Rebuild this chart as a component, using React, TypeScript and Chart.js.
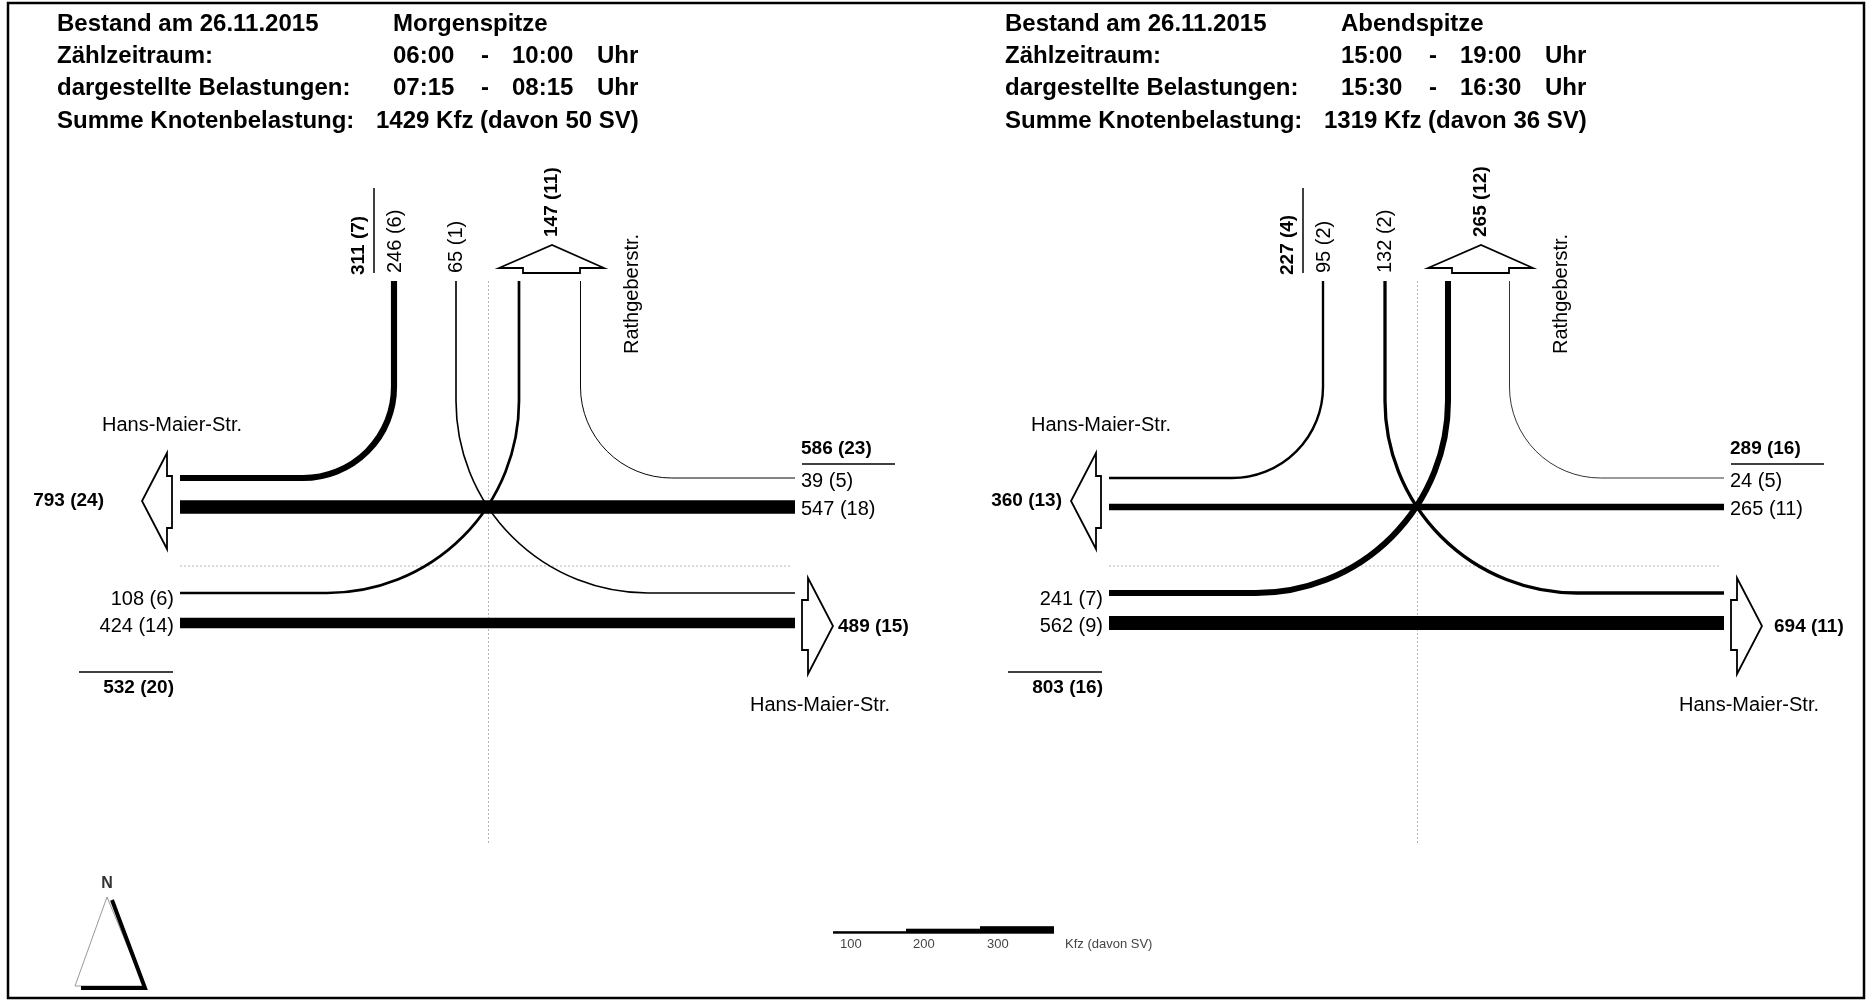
import React, { useEffect, useRef } from 'react';
import { Chart, registerables } from 'chart.js';

Chart.register(...registerables);

const W = 1867;
const H = 1000;

// ---------- data ----------
const periods = ['Morgenspitze', 'Abendspitze'];
const countStart = ['06:00', '15:00'];
const countEnd = ['10:00', '19:00'];
const shownStart = ['07:15', '15:30'];
const shownEnd = ['08:15', '16:30'];
const nodeKfz = [1429, 1319];
const nodeSV = [50, 36];
const surveyDate = '26.11.2015';

// movements: N→W (right), N→E (left), E→W (through), E→N (right), W→N (left), W→E (through)
const movements = ['N-W', 'N-E', 'E-W', 'E-N', 'W-N', 'W-E'];
const morningKfz = [246, 65, 547, 39, 108, 424];
const morningSV = [6, 1, 18, 5, 6, 14];
const eveningKfz = [95, 132, 265, 24, 241, 562];
const eveningSV = [2, 2, 11, 5, 7, 9];

// arm cross-sections: north in, north out, east in, west out, west in, east out
const arms = ['N in', 'N out', 'E in', 'W out', 'W in', 'E out'];
const morningArmKfz = [311, 147, 586, 793, 532, 489];
const morningArmSV = [7, 11, 23, 24, 20, 15];
const eveningArmKfz = [227, 265, 289, 360, 803, 694];
const eveningArmSV = [4, 12, 16, 13, 16, 11];

const streetNorth = 'Rathgeberstr.';
const streetWestEast = 'Hans-Maier-Str.';
const legendTicks = [100, 200, 300];
const legendUnit = 'Kfz (davon SV)';

// ---------- layout (positions & styles only) ----------
const FONT = '"Liberation Sans", Arial, Helvetica, sans-serif';
const KFZ_PER_PX = 40;
const diagramOffset = [0, 929];
const headerOffset = [0, 948];
const westExitLabelRight = [104, 1062];
const eastExitLabelLeft = [838, 1774];
const G = {
  top: 281, left: 180, right: 795,
  xNR: 394, xNL: 456, xMid: 488.5, xNE: 519, xER: 580.5,
  yTop: 478, yWT: 507, yMidH: 566, yEL: 593, yET: 623,
  rSmall: 91, rLarge: 192, dashBottom: 845,
};

const fmt = (k: number, s: number) => `${k} (${s})`;

function App() {
  const ref = useRef<HTMLCanvasElement>(null);

  useEffect(() => {
    document.body.style.margin = '0';
    const canvas = ref.current!;

    const plugin = {
      id: 'knotenstrom',
      beforeDraw(chart: any) {
        const ctx = chart.ctx;
        ctx.save();
        ctx.fillStyle = '#fff';
        ctx.fillRect(0, 0, chart.width, chart.height);
        ctx.restore();
      },
      afterDraw(chart: any) {
        const ctx: CanvasRenderingContext2D = chart.ctx;
        const sx = chart.scales.x;
        const sy = chart.scales.y;
        const X = (v: number) => sx.getPixelForValue(v);
        const Y = (v: number) => sy.getPixelForValue(v);
        const L = (v: number) => Math.abs(sx.getPixelForValue(v) - sx.getPixelForValue(0));
        const lw = (kfz: number) => Math.max(kfz / KFZ_PER_PX, 0.8);

        const text = (s: string, x: number, y: number, o: any = {}) => {
          ctx.save();
          ctx.font = `${o.bold ? 'bold ' : ''}${o.size || (o.bold ? 19 : 20)}px ${FONT}`;
          ctx.fillStyle = o.color || '#000';
          ctx.textBaseline = 'middle';
          ctx.textAlign = o.align || 'left';
          if (o.rot) {
            ctx.translate(X(x), Y(y));
            ctx.rotate(-Math.PI / 2);
            ctx.fillText(s, 0, 0);
          } else {
            ctx.fillText(s, X(x), Y(y));
          }
          ctx.restore();
        };
        const line = (pts: number[][], w: number, color = '#000', dash: number[] = []) => {
          ctx.save();
          ctx.strokeStyle = color;
          ctx.lineWidth = w;
          ctx.setLineDash(dash);
          ctx.beginPath();
          pts.forEach((p, i) => (i ? ctx.lineTo(X(p[0]), Y(p[1])) : ctx.moveTo(X(p[0]), Y(p[1]))));
          ctx.stroke();
          ctx.restore();
        };
        const poly = (pts: number[][], w = 1.8) => {
          ctx.save();
          ctx.beginPath();
          pts.forEach((p, i) => (i ? ctx.lineTo(X(p[0]), Y(p[1])) : ctx.moveTo(X(p[0]), Y(p[1]))));
          ctx.closePath();
          ctx.fillStyle = '#fff';
          ctx.fill();
          ctx.strokeStyle = '#000';
          ctx.lineWidth = w;
          ctx.lineJoin = 'miter';
          ctx.stroke();
          ctx.restore();
        };
        // straight start -> corner (arc radius r) -> end
        const turn = (a: number[], c: number[], b: number[], r: number, w: number) => {
          ctx.save();
          ctx.strokeStyle = '#000';
          ctx.lineWidth = w;
          ctx.lineCap = 'butt';
          ctx.beginPath();
          ctx.moveTo(X(a[0]), Y(a[1]));
          ctx.arcTo(X(c[0]), Y(c[1]), X(b[0]), Y(b[1]), L(r));
          ctx.lineTo(X(b[0]), Y(b[1]));
          ctx.stroke();
          ctx.restore();
        };

        // frame
        ctx.save();
        ctx.strokeStyle = '#000';
        ctx.lineWidth = 2.5;
        ctx.strokeRect(X(8), Y(3), L(1856), L(995));
        ctx.restore();

        periods.forEach((period, p) => {
          const hx = headerOffset[p];
          const kfz = p === 0 ? morningKfz : eveningKfz;
          const sv = p === 0 ? morningSV : eveningSV;
          const aK = p === 0 ? morningArmKfz : eveningArmKfz;
          const aS = p === 0 ? morningArmSV : eveningArmSV;

          // header
          const hb = { bold: true, size: 24 };
          text(`Bestand am ${surveyDate}`, hx + 57, 24, hb);
          text(period, hx + 393, 24, hb);
          text('Zählzeitraum:', hx + 57, 56, hb);
          text(countStart[p], hx + 393, 56, hb);
          text('-', hx + 481, 56, hb);
          text(countEnd[p], hx + 512, 56, hb);
          text('Uhr', hx + 597, 56, hb);
          text('dargestellte Belastungen:', hx + 57, 88, hb);
          text(shownStart[p], hx + 393, 88, hb);
          text('-', hx + 481, 88, hb);
          text(shownEnd[p], hx + 512, 88, hb);
          text('Uhr', hx + 597, 88, hb);
          text('Summe Knotenbelastung:', hx + 57, 121, hb);
          text(`${nodeKfz[p]} Kfz (davon ${nodeSV[p]} SV)`, hx + 376, 121, hb);

          const o = diagramOffset[p];
          const x = (v: number) => v + o;

          // guide lines
          line([[x(G.xMid), G.top], [x(G.xMid), G.dashBottom]], 1, '#b5b5b5', [2, 2]);
          line([[x(G.left), G.yMidH], [x(G.right - 3), G.yMidH]], 1, '#b5b5b5', [2, 2]);

          // streams
          const [nw, ne, ew, en, wn, we] = [0, 1, 2, 3, 4, 5];
          line([[x(G.right), G.yWT], [x(G.left), G.yWT]], lw(kfz[ew]));
          line([[x(G.left), G.yET], [x(G.right), G.yET]], lw(kfz[we]));
          turn([x(G.xNR), G.top], [x(G.xNR), G.yTop], [x(G.left), G.yTop], G.rSmall, lw(kfz[nw]));
          turn([x(G.right), G.yTop], [x(G.xER), G.yTop], [x(G.xER), G.top], G.rSmall, lw(kfz[en]));
          turn([x(G.xNL), G.top], [x(G.xNL), G.yEL], [x(G.right), G.yEL], G.rLarge, lw(kfz[ne]));
          turn([x(G.left), G.yEL], [x(G.xNE), G.yEL], [x(G.xNE), G.top], G.rLarge, lw(kfz[wn]));

          // exit arrows
          poly([[x(523), 273], [x(523), 268], [x(499), 268], [x(552), 245], [x(604), 268], [x(580), 268], [x(580), 273]]);
          poly([[x(167), 453], [x(142), 501], [x(167), 549], [x(167), 528], [x(172), 528], [x(172), 476], [x(167), 476]]);
          poly([[x(808), 578], [x(833), 626], [x(808), 674], [x(808), 650], [x(802), 650], [x(802), 600], [x(808), 600]]);

          // north arm labels
          text(fmt(aK[0], aS[0]), x(359), 275, { bold: true, rot: true });
          line([[x(374), 188], [x(374), 273]], 1.5);
          text(fmt(kfz[nw], sv[nw]), x(395), 273, { rot: true });
          text(fmt(kfz[ne], sv[ne]), x(456), 273, { rot: true });
          text(fmt(aK[1], aS[1]), x(552), 237, { bold: true, rot: true });
          text(streetNorth, x(632), 354, { rot: true });

          // west side
          text(streetWestEast, x(102), 425);
          text(fmt(aK[3], aS[3]), westExitLabelRight[p], 501, { bold: true, align: 'right' });
          text(fmt(kfz[wn], sv[wn]), x(174), 599, { align: 'right' });
          text(fmt(kfz[we], sv[we]), x(174), 626, { align: 'right' });
          line([[x(79), 672], [x(173), 672]], 1.5);
          text(fmt(aK[4], aS[4]), x(174), 688, { bold: true, align: 'right' });

          // east side
          text(fmt(aK[2], aS[2]), x(801), 449, { bold: true });
          line([[x(802), 464], [x(895), 464]], 1.5);
          text(fmt(kfz[en], sv[en]), x(801), 481);
          text(fmt(kfz[ew], sv[ew]), x(801), 509);
          text(fmt(aK[5], aS[5]), eastExitLabelLeft[p], 627, { bold: true });
          text(streetWestEast, x(750), 705);
        });

        // legend scale bar
        const segX = [833, 906, 980, 1054];
        legendTicks.forEach((t, i) => {
          const w = lw(t);
          ctx.save();
          ctx.fillStyle = '#000';
          ctx.fillRect(X(segX[i]), Y(933.7) - w, L(segX[i + 1] - segX[i]), w);
          ctx.restore();
          text(String(t), segX[i] + 7, 944, { size: 13, color: '#444' });
        });
        text(legendUnit, 1065, 944, { size: 13, color: '#444' });

        // north arrow
        text('N', 107, 884, { bold: true, size: 16, color: '#333', align: 'center' });
        line([[107, 897], [75, 986], [144, 986], [107, 897]], 1, '#999');
        line([[112, 900], [145, 988], [81, 988]], 4, '#000');
      },
    };

    const chart = new Chart(canvas, {
      type: 'scatter',
      data: { datasets: [] },
      options: {
        responsive: false,
        animation: false,
        devicePixelRatio: 1,
        layout: { padding: 0 },
        plugins: { legend: { display: false }, tooltip: { enabled: false } },
        scales: {
          x: { type: 'linear', min: 0, max: W, display: false },
          y: { type: 'linear', min: 0, max: H, reverse: true, display: false },
        },
      },
      plugins: [plugin],
    } as any);
    return () => chart.destroy();
  }, []);

  return <canvas ref={ref} width={W} height={H} style={{ display: 'block' }} />;
}

export default App;
